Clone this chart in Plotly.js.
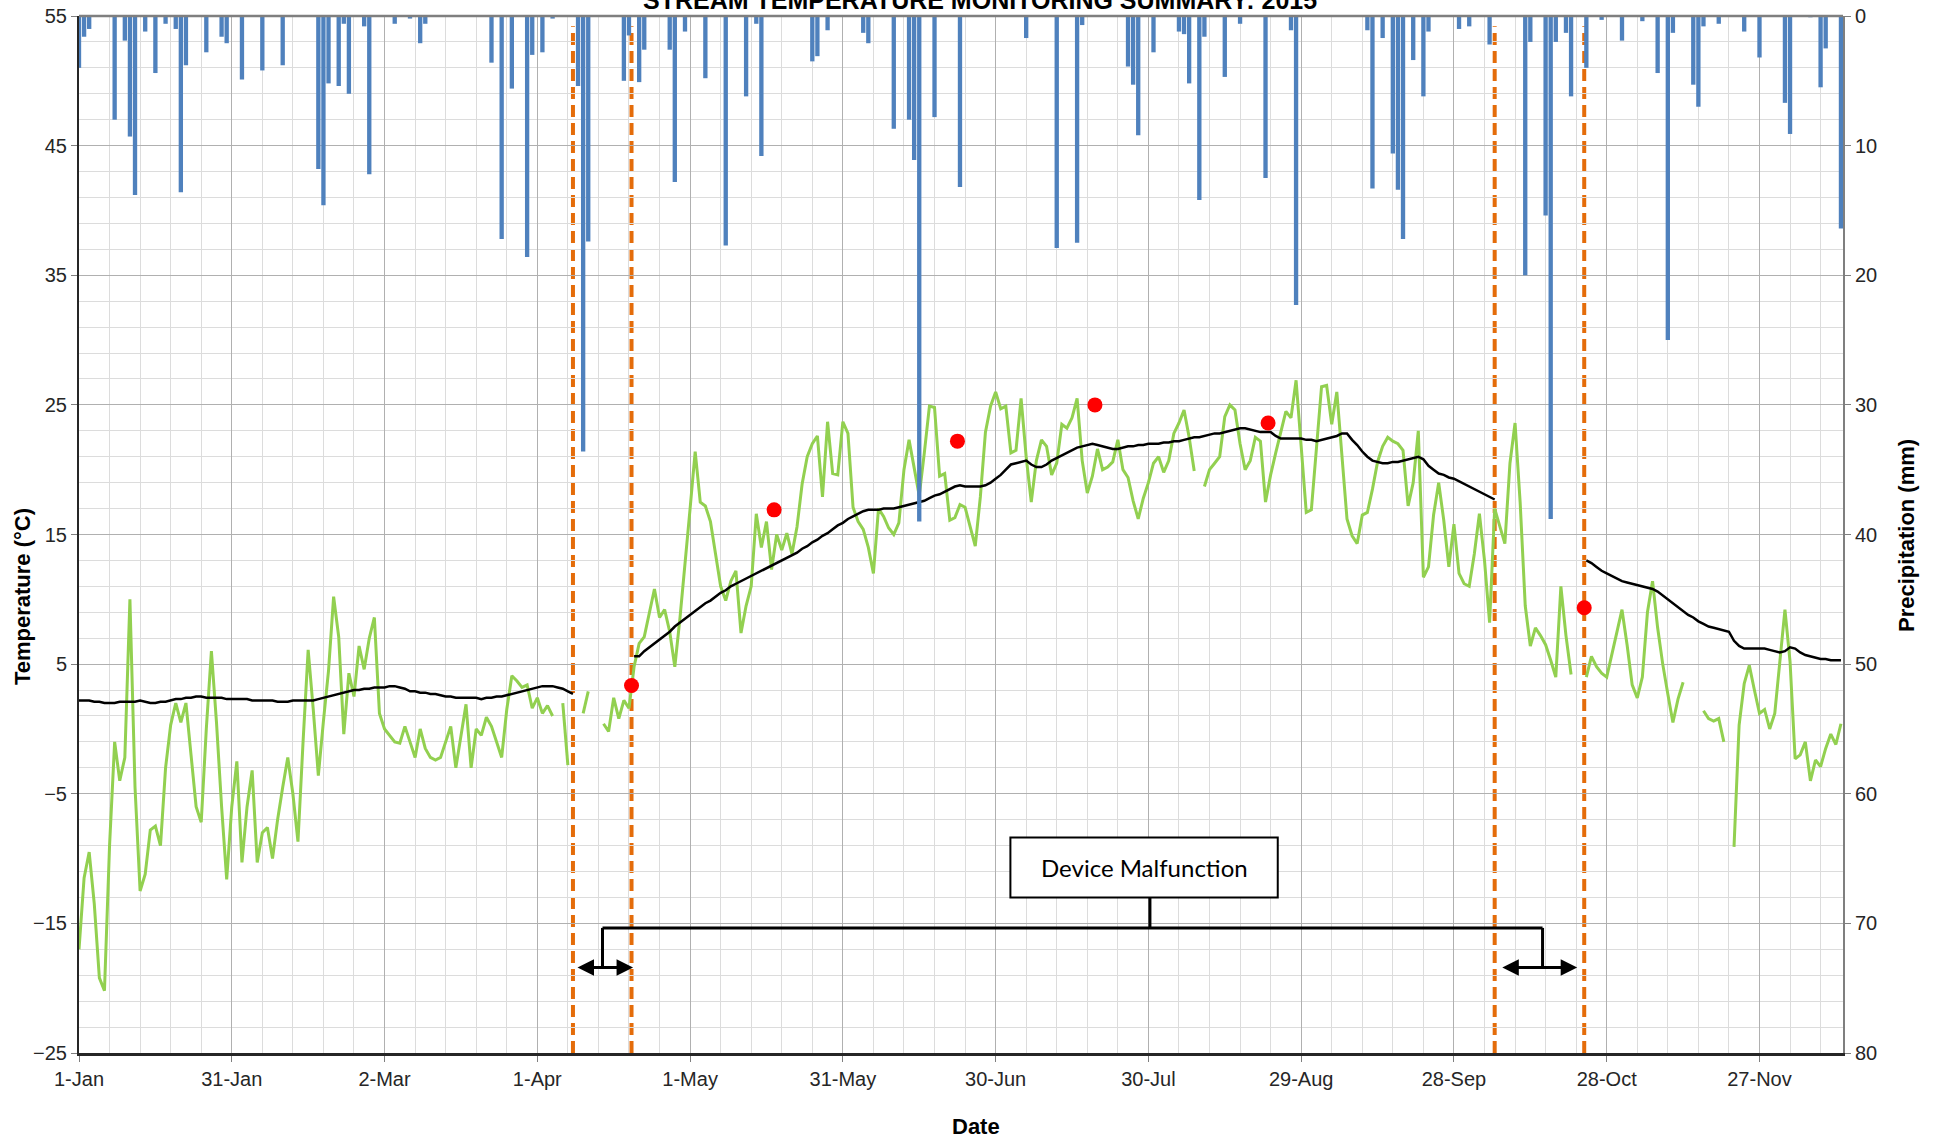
<!DOCTYPE html>
<html>
<head>
<meta charset="utf-8">
<script src="https://cdn.plot.ly/plotly-3.0.1.min.js"></script>
<style>
  html, body { margin: 0; padding: 0; background: #ffffff; }
  #chart { width: 1940px; height: 1140px; }
</style>
</head>
<body>
<div id="chart"></div>
<script>
// ---- time base: daily records starting 1-Jan-2015 ----
const START = Date.UTC(2015, 0, 1);
const DAY = 86400000;
function dayToDate(d) {
  return new Date(START + d * DAY).toISOString().slice(0, 19).replace('T', ' ');
}

// Daily air temperature (°C), one value per day from 1-Jan; null = no record
const airTemp = [
  -17.0, -11.5, -9.5, -13.5, -19.2, -20.2, -9.0, -1.0, -4.0, -2.2,
  10.0, -4.5, -12.5, -11.2, -7.8, -7.5, -9.0, -3.0, 0.3, 2.0,
  0.5, 2.0, -2.0, -6.0, -7.2, 0.0, 6.0, 0.5, -6.0, -11.6,
  -6.0, -2.5, -10.3, -6.0, -3.2, -10.3, -8.0, -7.6, -10.0, -7.0,
  -4.5, -2.2, -5.0, -8.7, -1.0, 6.1, 1.5, -3.6, 0.6, 4.5,
  10.2, 7.1, -0.4, 4.3, 2.5, 6.4, 4.6, 7.0, 8.6, 1.2,
  0.0, -0.5, -1.0, -1.1, 0.2, -1.0, -2.2, 0.0, -1.5, -2.2,
  -2.4, -2.2, -1.0, 0.2, -3.0, -0.5, 1.9, -3.0, 0.0, -0.5,
  0.9, 0.2, -1.0, -2.2, 1.5, 4.1, 3.7, 3.2, 3.4, 1.6,
  2.4, 1.2, 1.8, 1.0, null, 2.0, -2.8, null, null, 1.2,
  2.9, null, null, 0.4, -0.2, 2.4, 0.8, 2.2, 1.6, 4.8,
  6.6, 7.1, 9.0, 10.8, 8.6, 9.2, 7.5, 4.8, 8.5, 12.5,
  17.0, 21.4, 17.5, 17.2, 16.0, 13.5, 11.0, 9.9, 11.4, 12.2,
  7.4, 9.5, 11.0, 16.6, 14.0, 16.0, 12.3, 15.0, 13.8, 15.1,
  13.5, 15.6, 18.9, 21.0, 22.0, 22.6, 17.9, 23.7, 19.7, 19.6,
  23.7, 22.8, 17.1, 16.0, 15.4, 14.0, 12.0, 17.0, 16.4, 15.5,
  15.0, 15.9, 20.0, 22.3, 20.2, 18.0, 21.3, 24.9, 24.8, 19.5,
  19.7, 16.1, 16.3, 17.3, 17.1, 15.5, 14.1, 17.9, 22.9, 24.9,
  26.0, 24.7, 24.9, 21.3, 21.5, 25.5, 21.0, 17.5, 20.7, 22.3,
  21.8, 19.6, 20.5, 23.5, 23.2, 24.0, 25.5, 20.7, 18.2, 19.5,
  21.6, 20.0, 20.2, 20.6, 22.3, 20.0, 19.4, 17.6, 16.2, 17.8,
  19.0, 20.5, 21.0, 19.8, 20.7, 22.8, 23.6, 24.6, 22.5, 19.9,
  null, 18.7, 20.0, 20.5, 21.0, 24.1, 25.0, 24.6, 22.0, 20.0,
  20.7, 22.5, 22.2, 17.5, 19.6, 21.3, 22.9, 24.5, 24.0, 26.9,
  21.8, 16.7, 16.9, 21.8, 26.4, 26.5, 23.5, 26.0, 21.0, 16.2,
  14.9, 14.3, 16.5, 16.7, 18.5, 20.6, 21.8, 22.5, 22.2, 22.0,
  21.5, 17.2, 19.0, 23.0, 11.7, 12.5, 16.5, 19.0, 16.1, 12.5,
  15.8, 12.0, 11.2, 11.0, 13.5, 16.6, 13.0, 8.2, 17.0, 15.6,
  14.3, 20.5, 23.6, 17.5, 9.5, 6.4, 7.8, 7.2, 6.5, 5.3,
  4.0, 11.0, 7.2, 4.2, null, null, 4.0, 5.6, 4.8, 4.3,
  4.0, 5.8, 7.5, 9.2, 6.5, 3.4, 2.4, 4.0, 9.0, 11.4,
  7.8, 5.0, 2.7, 0.5, 2.3, 3.6, null, null, null, 1.4,
  0.8, 0.6, 0.8, -1.0, null, -9.1, 0.3, 3.5, 4.9, 3.0,
  1.2, 1.5, 0.0, 1.2, 5.0, 9.2, 5.2, -2.3, -2.0, -1.0,
  -4.0, -2.4, -2.9, -1.5, -0.4, -1.2, 0.4
];

// Daily mean stream temperature (°C) from the logger; null = logger fault
const streamTemp = [
  2.2, 2.2, 2.2, 2.1, 2.1, 2.0, 2.0, 2.0, 2.1, 2.1,
  2.1, 2.1, 2.2, 2.1, 2.0, 2.0, 2.1, 2.1, 2.2, 2.3,
  2.3, 2.4, 2.4, 2.5, 2.5, 2.4, 2.4, 2.4, 2.4, 2.3,
  2.3, 2.3, 2.3, 2.3, 2.2, 2.2, 2.2, 2.2, 2.2, 2.1,
  2.1, 2.1, 2.2, 2.2, 2.2, 2.2, 2.2, 2.3, 2.4, 2.5,
  2.6, 2.7, 2.8, 2.9, 3.0, 3.0, 3.1, 3.1, 3.2, 3.2,
  3.2, 3.3, 3.3, 3.2, 3.1, 2.9, 2.9, 2.8, 2.8, 2.7,
  2.7, 2.6, 2.5, 2.5, 2.4, 2.4, 2.4, 2.4, 2.4, 2.3,
  2.4, 2.4, 2.5, 2.5, 2.6, 2.7, 2.8, 2.9, 3.0, 3.1,
  3.2, 3.3, 3.3, 3.3, 3.2, 3.1, 2.9, 2.7, null, null,
  null, null, null, null, null, null, null, null, null, 5.6,
  5.6, 6.0, 6.3, 6.6, 6.9, 7.2, 7.5, 7.9, 8.2, 8.5,
  8.8, 9.1, 9.4, 9.7, 9.9, 10.2, 10.5, 10.7, 11.0, 11.2,
  11.4, 11.6, 11.8, 12.0, 12.2, 12.4, 12.6, 12.8, 13.0, 13.2,
  13.4, 13.6, 13.9, 14.1, 14.4, 14.6, 14.9, 15.1, 15.4, 15.7,
  15.9, 16.2, 16.4, 16.6, 16.8, 16.9, 16.9, 16.9, 17.0, 17.0,
  17.0, 17.1, 17.2, 17.3, 17.4, 17.5, 17.6, 17.8, 18.0, 18.1,
  18.3, 18.5, 18.7, 18.8, 18.7, 18.7, 18.7, 18.7, 18.8, 19.0,
  19.3, 19.6, 20.0, 20.4, 20.5, 20.6, 20.7, 20.4, 20.2, 20.2,
  20.4, 20.7, 20.9, 21.1, 21.3, 21.5, 21.7, 21.8, 21.9, 22.0,
  21.9, 21.8, 21.7, 21.6, 21.6, 21.7, 21.8, 21.8, 21.9, 21.9,
  22.0, 22.0, 22.0, 22.1, 22.1, 22.2, 22.2, 22.3, 22.4, 22.5,
  22.5, 22.6, 22.7, 22.8, 22.8, 22.9, 23.0, 23.1, 23.2, 23.2,
  23.1, 23.0, 22.9, 22.9, 22.9, 22.6, 22.4, 22.4, 22.4, 22.4,
  22.4, 22.3, 22.3, 22.2, 22.3, 22.4, 22.5, 22.6, 22.8, 22.8,
  22.3, 21.9, 21.4, 21.0, 20.7, 20.6, 20.5, 20.5, 20.6, 20.6,
  20.7, 20.8, 20.9, 21.0, 20.8, 20.3, 20.0, 19.7, 19.6, 19.4,
  19.3, 19.1, 18.9, 18.7, 18.5, 18.3, 18.1, 17.9, 17.7, null,
  null, null, null, null, null, null, null, null, null, null,
  null, null, null, null, null, null, 13.0, 12.8, 12.5, 12.2,
  12.0, 11.8, 11.6, 11.4, 11.3, 11.2, 11.1, 11.0, 10.9, 10.8,
  10.6, 10.3, 10.0, 9.7, 9.4, 9.1, 8.8, 8.6, 8.3, 8.1,
  7.9, 7.8, 7.7, 7.6, 7.5, 6.8, 6.4, 6.2, 6.2, 6.2,
  6.2, 6.2, 6.1, 6.0, 5.9, 6.0, 6.3, 6.2, 5.9, 5.7,
  5.6, 5.5, 5.4, 5.4, 5.3, 5.3, 5.3
];

// Rain days and daily totals (mm)
const rainDates = [
  '2015-01-01', '2015-01-02', '2015-01-03', '2015-01-08', '2015-01-10', '2015-01-11', '2015-01-12', '2015-01-14',
  '2015-01-16', '2015-01-18', '2015-01-20', '2015-01-21', '2015-01-22', '2015-01-26', '2015-01-29', '2015-01-30',
  '2015-02-02', '2015-02-06', '2015-02-10', '2015-02-17', '2015-02-18', '2015-02-19', '2015-02-21', '2015-02-22',
  '2015-02-23', '2015-02-26', '2015-02-27', '2015-03-04', '2015-03-07', '2015-03-09', '2015-03-10', '2015-03-23',
  '2015-03-25', '2015-03-27', '2015-03-30', '2015-03-31', '2015-04-02', '2015-04-04', '2015-04-09', '2015-04-10',
  '2015-04-11', '2015-04-18', '2015-04-19', '2015-04-21', '2015-04-22', '2015-04-27', '2015-04-28', '2015-04-30',
  '2015-05-04', '2015-05-08', '2015-05-12', '2015-05-14', '2015-05-15', '2015-05-25', '2015-05-26', '2015-05-28',
  '2015-06-04', '2015-06-05', '2015-06-10', '2015-06-13', '2015-06-14', '2015-06-15', '2015-06-18', '2015-06-23',
  '2015-07-06', '2015-07-12', '2015-07-16', '2015-07-17', '2015-07-26', '2015-07-27', '2015-07-28', '2015-07-31',
  '2015-08-05', '2015-08-06', '2015-08-07', '2015-08-09', '2015-08-10', '2015-08-14', '2015-08-17', '2015-08-22',
  '2015-08-27', '2015-08-28', '2015-09-11', '2015-09-12', '2015-09-14', '2015-09-16', '2015-09-17', '2015-09-18',
  '2015-09-20', '2015-09-22', '2015-09-23', '2015-09-29', '2015-10-01', '2015-10-05', '2015-10-12', '2015-10-13',
  '2015-10-16', '2015-10-17', '2015-10-18', '2015-10-20', '2015-10-21', '2015-10-24', '2015-10-27', '2015-10-31',
  '2015-11-04', '2015-11-07', '2015-11-09', '2015-11-10', '2015-11-14', '2015-11-15', '2015-11-16', '2015-11-19',
  '2015-11-24', '2015-11-27', '2015-12-02', '2015-12-03', '2015-12-07', '2015-12-09', '2015-12-10', '2015-12-13'
];
const rainMm = [
  4.0, 1.6, 1.0, 8.0, 1.9, 9.3, 13.8, 1.2,
  4.4, 0.6, 1.0, 13.6, 3.8, 2.8, 1.6, 2.1,
  4.9, 4.2, 3.8, 11.8, 14.6, 5.2, 5.4, 0.6,
  6.0, 0.8, 12.2, 0.6, 0.2, 2.1, 0.6, 3.6,
  17.2, 5.6, 18.6, 3.0, 2.8, 0.2, 5.4, 33.6,
  17.4, 5.0, 1.5, 5.1, 2.6, 2.6, 12.8, 1.2,
  4.8, 17.7, 6.2, 0.6, 10.8, 3.5, 3.1, 1.1,
  1.3, 2.1, 8.7, 8.0, 11.1, 39.0, 7.8, 13.2,
  1.7, 17.9, 17.5, 0.7, 3.9, 5.3, 9.2, 2.8,
  1.2, 1.4, 5.2, 14.2, 1.6, 4.7, 0.6, 12.5,
  1.1, 22.3, 1.1, 13.3, 1.7, 10.6, 13.4, 17.2,
  3.4, 6.2, 1.2, 1.0, 0.8, 2.2, 20.0, 2.0,
  15.4, 38.8, 2.0, 1.3, 6.2, 4.0, 0.3, 1.9,
  0.4, 4.4, 25.0, 1.3, 5.3, 7.0, 0.8, 0.6,
  1.2, 3.2, 6.7, 9.1, 0.1, 5.5, 2.5, 16.4
];

// Spot (hand-held) stream temperature readings
const spotDates = ['2015-04-19 12:00', '2015-05-17 12:00', '2015-06-22 12:00', '2015-07-19 12:00', '2015-08-22 12:00', '2015-10-23 14:00'];
const spotTemps = [3.35, 16.9, 22.2, 25.0, 23.6, 9.35];

// Logger fault windows (start/end of each outage marker)
const faultLines = ['2015-04-08 00:00', '2015-04-19 12:00', '2015-10-06 00:00', '2015-10-23 14:00'];

const days = airTemp.map((_, i) => dayToDate(i));

const FONT = 'Liberation Sans, Arial, sans-serif';
const GREEN = '#92D050';
const ORANGE = '#E46C0A';
const BLUE = '#4F81BD';

const traces = [
  {
    type: 'scatter', mode: 'lines', name: 'Air Temperature',
    x: days, y: airTemp, yaxis: 'y',
    line: { color: GREEN, width: 3 }, connectgaps: false, hoverinfo: 'skip'
  },
  {
    type: 'scatter', mode: 'lines', name: 'Stream Temperature',
    x: days, y: streamTemp, yaxis: 'y',
    line: { color: '#000000', width: 2.5 }, connectgaps: false, hoverinfo: 'skip'
  },
  {
    type: 'scatter', mode: 'markers', name: 'Spot Reading',
    x: spotDates, y: spotTemps, yaxis: 'y',
    marker: { color: '#FF0000', size: 15 }, hoverinfo: 'skip'
  },
  {
    type: 'bar', name: 'Precipitation',
    x: rainDates, y: rainMm, yaxis: 'y2',
    width: DAY * 0.85,
    marker: { color: BLUE, line: { width: 0 } }, hoverinfo: 'skip'
  }
];

const shapes = [];
// top frame line
shapes.push({ type: 'line', xref: 'paper', yref: 'paper', x0: 0, x1: 1, y0: 1, y1: 1,
  line: { color: '#7f7f7f', width: 2.5 }, layer: 'above' });
// outage markers: white backing plus orange dashed line
faultLines.forEach(d => {
  shapes.push({ type: 'line', xref: 'x', yref: 'paper', x0: d, x1: d, y0: 0, y1: 0.99,
    line: { color: '#ffffff', width: 8 }, layer: 'between' });
  shapes.push({ type: 'line', xref: 'x', yref: 'paper', x0: d, x1: d, y0: 0, y1: 0.99,
    line: { color: ORANGE, width: 4, dash: '12px,6px' }, layer: 'between' });
});
// bracket joining both outage windows to the label
const bracketY = -15.35, armY = -18.3;
const bLeft = dayToDate(102.8), bRight = dayToDate(287.4), bMid = dayToDate(210.3);
const lineStyle = { color: '#000000', width: 3 };
shapes.push({ type: 'line', xref: 'x', yref: 'y', x0: bLeft, x1: bRight, y0: bracketY, y1: bracketY, line: lineStyle, layer: 'above' });
shapes.push({ type: 'line', xref: 'x', yref: 'y', x0: bLeft, x1: bLeft, y0: bracketY, y1: armY, line: lineStyle, layer: 'above' });
shapes.push({ type: 'line', xref: 'x', yref: 'y', x0: bRight, x1: bRight, y0: bracketY, y1: armY, line: lineStyle, layer: 'above' });
shapes.push({ type: 'line', xref: 'x', yref: 'y', x0: bMid, x1: bMid, y0: -13.0, y1: bracketY, line: lineStyle, layer: 'above' });
// label box
shapes.push({ type: 'rect', xref: 'x', yref: 'y', x0: dayToDate(182.9), x1: dayToDate(235.4), y0: -13.0, y1: -8.37,
  fillcolor: '#ffffff', line: { color: '#000000', width: 2 }, layer: 'above' });

function doubleArrow(d0, d1, y) {
  return {
    xref: 'x', yref: 'y', axref: 'x', ayref: 'y',
    x: dayToDate(d1), y: y, ax: dayToDate(d0), ay: y,
    text: '', showarrow: true, arrowhead: 2, arrowside: 'end+start',
    arrowsize: 1.1, arrowwidth: 3, arrowcolor: '#000000', standoff: 0, startstandoff: 0
  };
}

const annotations = [
  {
    xref: 'paper', yref: 'paper', x: 0.5108, y: 1.0154, xanchor: 'center', yanchor: 'middle',
    text: '<b>STREAM TEMPERATURE MONITORING SUMMARY: 2015</b>', showarrow: false,
    font: { family: FONT, size: 25, color: '#000000' }
  },
  {
    xref: 'paper', yref: 'paper', x: -0.0323, y: 0.4397, xanchor: 'center', yanchor: 'middle',
    text: '<b>Temperature (°C)</b>', textangle: -90, showarrow: false,
    font: { family: FONT, size: 22, color: '#000000' }
  },
  {
    xref: 'paper', yref: 'paper', x: 1.0363, y: 0.4986, xanchor: 'center', yanchor: 'middle',
    text: '<b>Precipitation (mm)</b>', textangle: -90, showarrow: false,
    font: { family: FONT, size: 22, color: '#000000' }
  },
  {
    xref: 'paper', yref: 'paper', x: 0.5085, y: -0.0704, xanchor: 'center', yanchor: 'middle',
    text: '<b>Date</b>', showarrow: false,
    font: { family: FONT, size: 22, color: '#000000' }
  },
  {
    xref: 'x', yref: 'y', x: dayToDate(209.15), y: -10.69, xanchor: 'center', yanchor: 'middle',
    text: 'Device Malfunction', showarrow: false,
    font: { family: 'Lato, Open Sans, sans-serif', size: 24, color: '#000000' }
  },
  doubleArrow(97.6, 108.8, -18.4),
  doubleArrow(279.2, 294.2, -18.4)
];

const layout = {
  width: 1940, height: 1140,
  margin: { l: 79, r: 97, t: 16, b: 87, pad: 0 },
  paper_bgcolor: '#ffffff', plot_bgcolor: '#ffffff',
  showlegend: false,
  font: { family: FONT, color: '#262626' },
  xaxis: {
    type: 'date',
    range: [dayToDate(0), dayToDate(346.4)],
    tick0: '2015-01-01', dtick: 30 * DAY, tickformat: '%-d-%b',
    ticks: 'outside', ticklen: 6, tickcolor: '#7f7f7f', tickwidth: 1,
    tickfont: { family: FONT, size: 20, color: '#262626' },
    showline: true, linecolor: '#262626', linewidth: 2.5,
    showgrid: true, gridcolor: '#b0b0b0', gridwidth: 1,
    minor: { tick0: '2015-01-01', dtick: 6 * DAY, showgrid: true, gridcolor: '#dcdcdc', gridwidth: 1, ticks: '' },
    zeroline: false, fixedrange: true
  },
  yaxis: {
    range: [-25, 55], tick0: -25, dtick: 10,
    ticks: 'outside', ticklen: 6, tickcolor: '#7f7f7f', tickwidth: 1,
    tickfont: { family: FONT, size: 20, color: '#262626' },
    showline: true, linecolor: '#262626', linewidth: 2,
    showgrid: true, gridcolor: '#b0b0b0', gridwidth: 1,
    minor: { tick0: -25, dtick: 2, showgrid: true, gridcolor: '#dcdcdc', gridwidth: 1, ticks: '' },
    zeroline: false, fixedrange: true
  },
  yaxis2: {
    overlaying: 'y', side: 'right',
    range: [80, 0], tick0: 0, dtick: 10,
    ticks: 'outside', ticklen: 6, tickcolor: '#7f7f7f', tickwidth: 1,
    tickfont: { family: FONT, size: 20, color: '#262626' },
    showline: true, linecolor: '#7f7f7f', linewidth: 2,
    showgrid: false, zeroline: false, fixedrange: true
  },
  bargap: 0.15,
  shapes: shapes,
  annotations: annotations
};

Plotly.newPlot('chart', traces, layout, { displayModeBar: false, staticPlot: true });
</script>
</body>
</html>
